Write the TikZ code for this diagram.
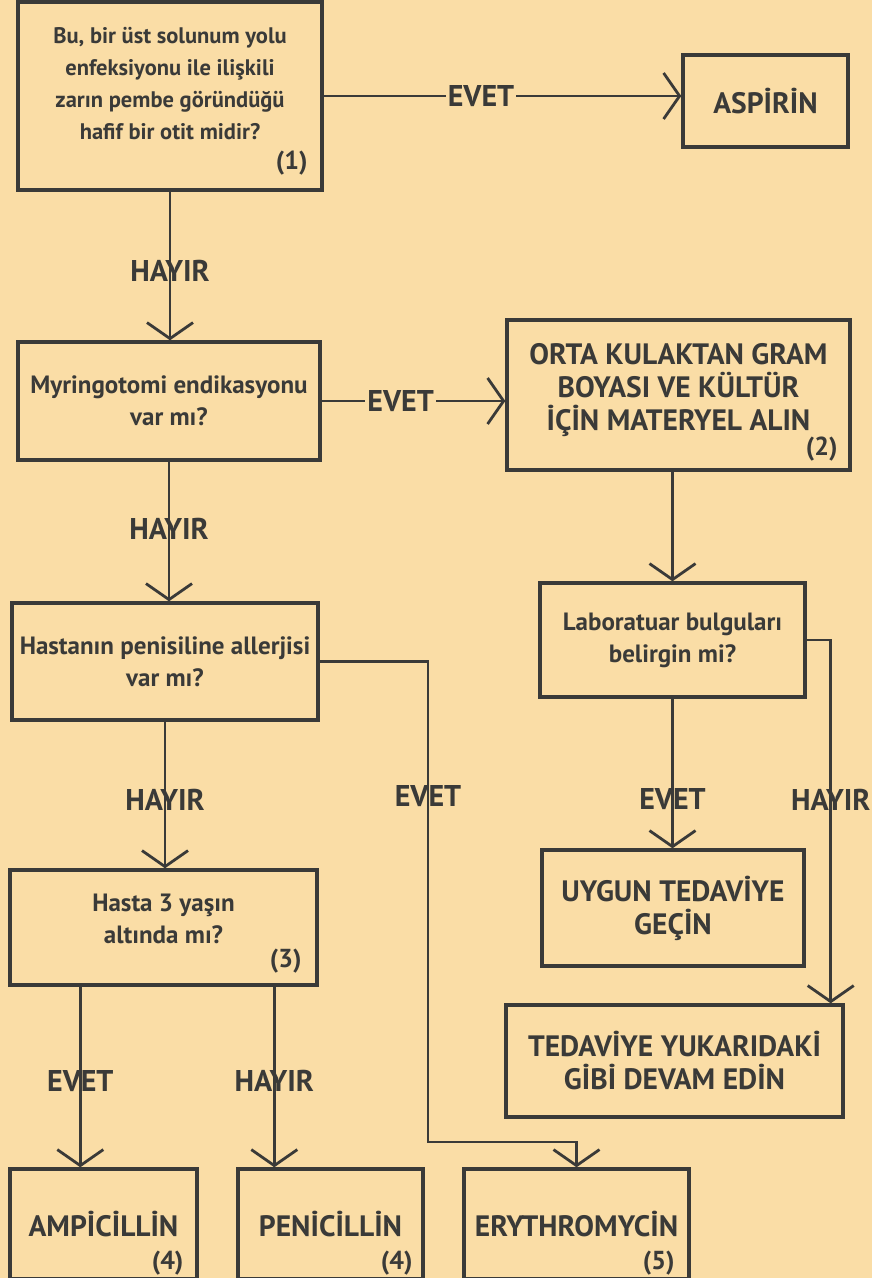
\documentclass[tikz,border=0pt]{standalone}
\usepackage{fontspec}
\setmainfont{PT Sans}
\usetikzlibrary{arrows.meta,positioning,calc}
\definecolor{PaperTan}{HTML}{FADDA6}
\definecolor{InkGray}{HTML}{3A3A38}
\tikzset{
  qbox/.style={rectangle, draw=InkGray, line width=3.4pt, text=InkGray, font=\bfseries\fontsize{25}{32}\selectfont, align=center, inner sep=0pt},
  abox/.style={qbox, font=\bfseries\fontsize{29.5}{33}\selectfont},
  numtag/.style={font=\bfseries\fontsize{26}{26}\selectfont, text=InkGray, inner sep=0pt},
  arrow/.style={-{Straight Barb[length=16pt,width=46pt,line width=2.8pt]}, line width=2.8pt, draw=InkGray},
  answer/.style={font=\bfseries\fontsize{30}{30}\selectfont, text=InkGray, inner sep=2pt}
}
\begin{document}
\begin{tikzpicture}[x=1pt,y=-1pt]
  \fill[PaperTan] (0,0) rectangle (872,1278);
  \useasboundingbox (0,0) rectangle (872,1278);
  \clip (0,0) rectangle (872,1278);

  % question boxes on the left
  \node[qbox, font=\bfseries\fontsize{22.5}{32}\selectfont, text depth=26pt, minimum width=304pt, minimum height=188pt, label={[numtag, anchor=south east, xshift=-16pt, yshift=16pt]south east:(1)}] (q1) at (170,96) {Bu, bir üst solunum yolu\\enfeksiyonu ile ilişkili\\zarın pembe göründüğü\\hafif bir otit midir?};
  \node[qbox, minimum width=302pt, minimum height=118pt] (q2) at (169,401) {Myringotomi endikasyonu\\var mı?};
  \node[qbox, minimum width=306pt, minimum height=117pt] (q3) at (165,661.5) {Hastanın penisiline allerjisi\\var mı?};
  \node[qbox, text depth=18pt, minimum width=307pt, minimum height=115pt, label={[numtag, anchor=south east, xshift=-17pt, yshift=13pt]south east:(3)}] (q4) at (163.5,927.5) {Hasta 3 yaşın\\altında mı?};

  % right column
  \node[abox, minimum width=165pt, minimum height=92pt] (aspirin) at (765.5,101) {ASPİRİN};
  \node[abox, text depth=17pt, minimum width=343pt, minimum height=150pt, label={[numtag, anchor=south east, xshift=-14pt, yshift=10pt]south east:(2)}] (orta) at (678.5,395) {ORTA KULAKTAN GRAM\\BOYASI VE KÜLTÜR\\İÇİN MATERYEL ALIN};
  \node[qbox, minimum width=265pt, minimum height=114pt] (lab) at (672.5,640) {Laboratuar bulguları\\belirgin mi?};
  \node[abox, minimum width=262pt, minimum height=116pt] (uygun) at (673,908) {UYGUN TEDAVİYE\\GEÇİN};
  \node[abox, minimum width=337pt, minimum height=112pt] (devam) at (674.5,1061) {TEDAVİYE YUKARIDAKİ\\GİBİ DEVAM EDİN};

  % drug boxes at the bottom
  \node[abox, minimum width=187pt, minimum height=110pt, label={[numtag, anchor=east, xshift=-15pt, yshift=-96pt]north east:(4)}] (ampi) at (103.5,1224) {AMPİCİLLİN};
  \node[abox, minimum width=185pt, minimum height=110pt, label={[numtag, anchor=east, xshift=-12pt, yshift=-96pt]north east:(4)}] (peni) at (330.5,1224) {PENİCİLLİN};
  \node[abox, minimum width=225pt, minimum height=110pt, label={[numtag, anchor=east, xshift=-16pt, yshift=-96pt]north east:(5)}] (ery) at (576.5,1224) {ERYTHROMYCİN};

  \coordinate (evetturn) at (428,1142);
  \coordinate (labhayir) at ([xshift=-14pt]devam.north east);
  \coordinate (q4evet) at ([xshift=72pt]q4.south west);
  \coordinate (q4hayir) at ([xshift=266pt]q4.south west);

  % connectors
  \draw[arrow] (q1.east) -- node[answer, fill=PaperTan, pos=0.44] {EVET} (q1.east -| aspirin.west);
  \draw[arrow] (q1.south) -- node[answer, pos=0.53] {HAYIR} (q1.south |- q2.north);
  \draw[arrow] (q2.east) -- node[answer, fill=PaperTan, pos=0.43] {EVET} (q2.east -| orta.west);
  \draw[arrow] (q2.south) -- node[answer, pos=0.48] {HAYIR} (q2.south |- q3.north);
  \draw[arrow] (lab.north |- orta.south) -- (lab.north);
  \draw[arrow] (q3.east) -| node[answer, pos=0.64] {EVET} (evetturn) -| (ery.north);
  \draw[arrow] (q3.south) -- node[answer, pos=0.53] {HAYIR} (q3.south |- q4.north);
  \draw[arrow] (lab.south) -- node[answer, pos=0.67] {EVET} (lab.south |- uygun.north);
  \draw[arrow] (lab.east) -| node[answer, pos=0.72] {HAYIR} (labhayir);
  \draw[arrow] (q4evet) -- node[answer, pos=0.52] {EVET} (q4evet |- ampi.north);
  \draw[arrow] (q4hayir) -- node[answer, pos=0.52] {HAYIR} (q4hayir |- peni.north);
\end{tikzpicture}
\end{document}
